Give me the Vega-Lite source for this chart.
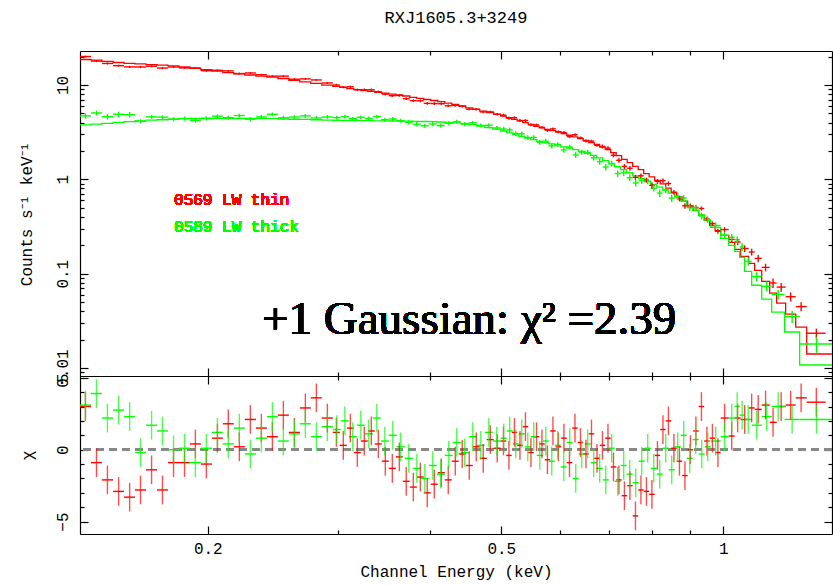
{
"$schema": "https://vega.github.io/schema/vega-lite/v6.json",
"background": "white",
"padding": {"left": 17, "top": 9, "right": 0, "bottom": 12},
"spacing": 0,
"bounds": "flush",
"config": {
 "view": {"stroke": null},
 "axis": {"labelFont": "Liberation Mono", "labelFontSize": 16, "titleFont": "Liberation Mono", "titleFontSize": 16, "titleFontWeight": "normal", "labelColor": "#000", "titleColor": "#000", "domainColor": "#000", "tickColor": "#000", "domainWidth": 1.2, "tickWidth": 1.2, "grid": false, "labelOverlap": false, "labelFlush": false, "labelBound": false}
},
"datasets": {
"spec": [
{"s":"r","e":0.1365,"a":0.1342,"b":0.1389,"v":20.0,"d":0.47,"m":18.6,"r":3.0},
{"s":"r","e":0.1413,"a":0.1389,"b":0.1437,"v":17.9,"d":0.46,"m":18.3,"r":-0.9},
{"s":"r","e":0.1462,"a":0.1437,"b":0.1488,"v":16.9,"d":0.45,"m":17.8,"r":-2.1},
{"s":"r","e":0.1514,"a":0.1488,"b":0.1540,"v":16.0,"d":0.43,"m":17.3,"r":-2.9},
{"s":"r","e":0.1567,"a":0.1540,"b":0.1593,"v":15.55,"d":0.42,"m":16.95,"r":-3.3},
{"s":"r","e":0.1621,"a":0.1593,"b":0.1649,"v":15.5,"d":0.42,"m":16.7,"r":-2.8},
{"s":"r","e":0.1678,"a":0.1649,"b":0.1707,"v":15.8,"d":0.41,"m":16.4,"r":-1.4},
{"s":"r","e":0.1736,"a":0.1707,"b":0.1766,"v":15.1,"d":0.41,"m":16.2,"r":-2.8},
{"s":"r","e":0.1797,"a":0.1766,"b":0.1828,"v":15.5,"d":0.40,"m":15.9,"r":-0.9},
{"s":"r","e":0.1860,"a":0.1828,"b":0.1891,"v":15.15,"d":0.39,"m":15.5,"r":-0.9},
{"s":"r","e":0.1924,"a":0.1891,"b":0.1957,"v":15.15,"d":0.375,"m":15.0,"r":0.4},
{"s":"r","e":0.1991,"a":0.1957,"b":0.2026,"v":14.15,"d":0.36,"m":14.5,"r":-1.0},
{"s":"r","e":0.2061,"a":0.2026,"b":0.2096,"v":14.3,"d":0.35,"m":14.0,"r":0.8},
{"s":"r","e":0.2132,"a":0.2096,"b":0.2169,"v":14.1,"d":0.34,"m":13.5,"r":1.8},
{"s":"r","e":0.2207,"a":0.2169,"b":0.2245,"v":13.2,"d":0.33,"m":13.1,"r":0.2},
{"s":"r","e":0.2284,"a":0.2245,"b":0.2324,"v":13.4,"d":0.32,"m":12.75,"r":2.1},
{"s":"r","e":0.2364,"a":0.2324,"b":0.2405,"v":12.85,"d":0.31,"m":12.4,"r":1.5},
{"s":"r","e":0.2447,"a":0.2405,"b":0.2489,"v":12.4,"d":0.30,"m":12.1,"r":0.9},
{"s":"r","e":0.2532,"a":0.2489,"b":0.2576,"v":12.4,"d":0.29,"m":11.7,"r":2.4},
{"s":"r","e":0.2621,"a":0.2576,"b":0.2666,"v":11.5,"d":0.28,"m":11.2,"r":1.2},
{"s":"r","e":0.2712,"a":0.2666,"b":0.2759,"v":11.6,"d":0.27,"m":10.8,"r":2.9},
{"s":"r","e":0.2807,"a":0.2759,"b":0.2855,"v":11.3,"d":0.26,"m":10.4,"r":3.6},
{"s":"r","e":0.2905,"a":0.2855,"b":0.2955,"v":10.5,"d":0.25,"m":9.97,"r":2.2},
{"s":"r","e":0.2988,"a":0.2955,"b":0.3020,"v":9.99,"d":0.29,"m":9.64,"r":1.2},
{"s":"r","e":0.3053,"a":0.3020,"b":0.3087,"v":9.49,"d":0.28,"m":9.41,"r":0.3},
{"s":"r","e":0.3121,"a":0.3087,"b":0.3155,"v":9.57,"d":0.27,"m":9.16,"r":1.5},
{"s":"r","e":0.3190,"a":0.3155,"b":0.3225,"v":8.89,"d":0.27,"m":8.94,"r":-0.2},
{"s":"r","e":0.3260,"a":0.3225,"b":0.3296,"v":8.89,"d":0.26,"m":8.73,"r":0.6},
{"s":"r","e":0.3332,"a":0.3296,"b":0.3369,"v":8.89,"d":0.26,"m":8.56,"r":1.3},
{"s":"r","e":0.3406,"a":0.3369,"b":0.3443,"v":8.47,"d":0.25,"m":8.37,"r":0.4},
{"s":"r","e":0.3481,"a":0.3443,"b":0.3519,"v":7.99,"d":0.25,"m":8.19,"r":-0.8},
{"s":"r","e":0.3558,"a":0.3519,"b":0.3597,"v":7.70,"d":0.24,"m":8.01,"r":-1.3},
{"s":"r","e":0.3637,"a":0.3597,"b":0.3676,"v":7.74,"d":0.24,"m":7.86,"r":-0.5},
{"s":"r","e":0.3716,"a":0.3676,"b":0.3758,"v":7.14,"d":0.23,"m":7.64,"r":-2.2},
{"s":"r","e":0.3799,"a":0.3758,"b":0.3841,"v":6.82,"d":0.22,"m":7.40,"r":-2.6},
{"s":"r","e":0.3883,"a":0.3841,"b":0.3925,"v":6.79,"d":0.22,"m":7.20,"r":-1.9},
{"s":"r","e":0.3968,"a":0.3925,"b":0.4012,"v":6.38,"d":0.21,"m":7.01,"r":-3.0},
{"s":"r","e":0.4056,"a":0.4012,"b":0.4101,"v":6.35,"d":0.21,"m":6.84,"r":-2.4},
{"s":"r","e":0.4146,"a":0.4101,"b":0.4191,"v":6.33,"d":0.20,"m":6.65,"r":-1.6},
{"s":"r","e":0.4237,"a":0.4191,"b":0.4284,"v":6.02,"d":0.19,"m":6.42,"r":-2.1},
{"s":"r","e":0.4331,"a":0.4284,"b":0.4378,"v":6.06,"d":0.19,"m":6.21,"r":-0.8},
{"s":"r","e":0.4426,"a":0.4378,"b":0.4475,"v":5.94,"d":0.18,"m":5.99,"r":-0.3},
{"s":"r","e":0.4524,"a":0.4475,"b":0.4574,"v":5.54,"d":0.17,"m":5.73,"r":-1.1},
{"s":"r","e":0.4624,"a":0.4574,"b":0.4675,"v":5.53,"d":0.165,"m":5.50,"r":0.2},
{"s":"r","e":0.4726,"a":0.4675,"b":0.4778,"v":5.18,"d":0.16,"m":5.28,"r":-0.6},
{"s":"r","e":0.4831,"a":0.4778,"b":0.4883,"v":5.19,"d":0.15,"m":5.08,"r":0.7},
{"s":"r","e":0.4937,"a":0.4883,"b":0.4991,"v":4.90,"d":0.15,"m":4.89,"r":0.1},
{"s":"r","e":0.5034,"a":0.4991,"b":0.5077,"v":4.79,"d":0.164,"m":4.69,"r":0.6},
{"s":"r","e":0.5121,"a":0.5077,"b":0.5165,"v":4.44,"d":0.158,"m":4.50,"r":-0.4},
{"s":"r","e":0.5210,"a":0.5165,"b":0.5255,"v":4.50,"d":0.151,"m":4.32,"r":1.2},
{"s":"r","e":0.5300,"a":0.5255,"b":0.5346,"v":4.20,"d":0.146,"m":4.16,"r":0.3},
{"s":"r","e":0.5392,"a":0.5346,"b":0.5438,"v":4.20,"d":0.139,"m":3.98,"r":1.6},
{"s":"r","e":0.5485,"a":0.5438,"b":0.5533,"v":3.78,"d":0.133,"m":3.81,"r":-0.2},
{"s":"r","e":0.5581,"a":0.5533,"b":0.5628,"v":3.77,"d":0.128,"m":3.65,"r":0.9},
{"s":"r","e":0.5677,"a":0.5628,"b":0.5726,"v":3.56,"d":0.123,"m":3.51,"r":0.4},
{"s":"r","e":0.5775,"a":0.5726,"b":0.5825,"v":3.31,"d":0.119,"m":3.39,"r":-0.7},
{"s":"r","e":0.5875,"a":0.5825,"b":0.5926,"v":3.43,"d":0.115,"m":3.28,"r":1.3},
{"s":"r","e":0.5977,"a":0.5926,"b":0.6028,"v":3.19,"d":0.111,"m":3.17,"r":0.2},
{"s":"r","e":0.6080,"a":0.6028,"b":0.6133,"v":3.14,"d":0.107,"m":3.05,"r":0.8},
{"s":"r","e":0.6186,"a":0.6133,"b":0.6239,"v":2.84,"d":0.103,"m":2.93,"r":-0.9},
{"s":"r","e":0.6293,"a":0.6239,"b":0.6347,"v":2.97,"d":0.099,"m":2.82,"r":1.5},
{"s":"r","e":0.6402,"a":0.6347,"b":0.6457,"v":2.75,"d":0.095,"m":2.70,"r":0.5},
{"s":"r","e":0.6513,"a":0.6457,"b":0.6569,"v":2.55,"d":0.090,"m":2.58,"r":-0.3},
{"s":"r","e":0.6626,"a":0.6569,"b":0.6683,"v":2.54,"d":0.086,"m":2.45,"r":1.1},
{"s":"r","e":0.6741,"a":0.6683,"b":0.6798,"v":2.29,"d":0.082,"m":2.34,"r":-0.6},
{"s":"r","e":0.6857,"a":0.6798,"b":0.6916,"v":2.23,"d":0.110,"m":2.20,"r":0.3},
{"s":"r","e":0.6976,"a":0.6916,"b":0.7036,"v":2.14,"d":0.103,"m":2.06,"r":0.8},
{"s":"r","e":0.7097,"a":0.7036,"b":0.7157,"v":1.80,"d":0.096,"m":1.92,"r":-1.2},
{"s":"r","e":0.7219,"a":0.7157,"b":0.7281,"v":1.59,"d":0.089,"m":1.78,"r":-2.1},
{"s":"r","e":0.7344,"a":0.7281,"b":0.7407,"v":1.37,"d":0.082,"m":1.63,"r":-3.2},
{"s":"r","e":0.7471,"a":0.7407,"b":0.7536,"v":1.31,"d":0.075,"m":1.50,"r":-2.5},
{"s":"r","e":0.7601,"a":0.7536,"b":0.7666,"v":1.05,"d":0.069,"m":1.37,"r":-4.6},
{"s":"r","e":0.7732,"a":0.7666,"b":0.7799,"v":1.09,"d":0.064,"m":1.27,"r":-2.8},
{"s":"r","e":0.7866,"a":0.7799,"b":0.7934,"v":0.983,"d":0.058,"m":1.15,"r":-2.9},
{"s":"r","e":0.8002,"a":0.7934,"b":0.8071,"v":0.863,"d":0.064,"m":1.06,"r":-3.1},
{"s":"r","e":0.8141,"a":0.8071,"b":0.8211,"v":0.951,"d":0.058,"m":0.974,"r":-0.4},
{"s":"r","e":0.8282,"a":0.8211,"b":0.8353,"v":0.969,"d":0.054,"m":0.894,"r":1.4},
{"s":"r","e":0.8425,"a":0.8353,"b":0.8498,"v":0.902,"d":0.048,"m":0.805,"r":2.0},
{"s":"r","e":0.8571,"a":0.8498,"b":0.8645,"v":0.729,"d":0.044,"m":0.725,"r":0.1},
{"s":"r","e":0.8720,"a":0.8645,"b":0.8795,"v":0.622,"d":0.039,"m":0.653,"r":-0.8},
{"s":"r","e":0.8871,"a":0.8795,"b":0.8947,"v":0.524,"d":0.035,"m":0.587,"r":-1.8},
{"s":"r","e":0.9024,"a":0.8947,"b":0.9102,"v":0.524,"d":0.031,"m":0.524,"r":0.0},
{"s":"r","e":0.9180,"a":0.9102,"b":0.9260,"v":0.503,"d":0.028,"m":0.467,"r":1.3},
{"s":"r","e":0.9340,"a":0.9260,"b":0.9420,"v":0.491,"d":0.025,"m":0.416,"r":3.0},
{"s":"r","e":0.9501,"a":0.9420,"b":0.9583,"v":0.380,"d":0.022,"m":0.367,"r":0.6},
{"s":"r","e":0.9666,"a":0.9583,"b":0.9749,"v":0.339,"d":0.019,"m":0.323,"r":0.8},
{"s":"r","e":0.9833,"a":0.9749,"b":0.9918,"v":0.282,"d":0.017,"m":0.285,"r":-0.2},
{"s":"r","e":1.004,"a":0.9918,"b":1.0169,"v":0.2935,"d":0.0178,"m":0.2543,"r":2.2},
{"s":"r","e":1.0265,"a":1.0169,"b":1.0361,"v":0.2309,"d":0.0172,"m":0.2146,"r":0.95},
{"s":"r","e":1.0458,"a":1.0361,"b":1.0558,"v":0.2168,"d":0.0163,"m":0.181,"r":2.2},
{"s":"r","e":1.069,"a":1.0558,"b":1.0824,"v":0.1848,"d":0.0153,"m":0.1527,"r":2.1},
{"s":"r","e":1.0925,"a":1.0824,"b":1.1028,"v":0.1699,"d":0.0142,"m":0.1288,"r":2.9},
{"s":"r","e":1.115,"a":1.1028,"b":1.1273,"v":0.1451,"d":0.0130,"m":0.1086,"r":2.8},
{"s":"r","e":1.141,"a":1.1273,"b":1.1557,"v":0.1166,"d":0.0108,"m":0.0831,"r":3.1},
{"s":"r","e":1.168,"a":1.1557,"b":1.1812,"v":0.0798,"d":0.0093,"m":0.0621,"r":1.9},
{"s":"r","e":1.198,"a":1.1812,"b":1.2149,"v":0.0721,"d":0.0078,"m":0.0487,"r":3.0},
{"s":"r","e":1.234,"a":1.2149,"b":1.2536,"v":0.057,"d":0.0063,"m":0.0373,"r":3.1},
{"s":"r","e":1.275,"a":1.2536,"b":1.2974,"v":0.0448,"d":0.0049,"m":0.0272,"r":3.6},
{"s":"r","e":1.337,"a":1.2974,"b":1.3765,"v":0.0234,"d":0.0028,"m":0.0141,"r":3.3},
{"s":"r","a":1.4034,"m":0.0141},
{"s":"g","e":0.1365,"a":0.1342,"b":0.1389,"v":4.70,"d":0.30,"m":3.77,"r":3.1},
{"s":"g","e":0.1413,"a":0.1389,"b":0.1437,"v":5.05,"d":0.31,"m":3.85,"r":3.9},
{"s":"g","e":0.1462,"a":0.1437,"b":0.1488,"v":4.61,"d":0.31,"m":3.92,"r":2.2},
{"s":"g","e":0.1514,"a":0.1488,"b":0.1540,"v":4.89,"d":0.32,"m":4.01,"r":2.75},
{"s":"g","e":0.1567,"a":0.1540,"b":0.1593,"v":4.84,"d":0.33,"m":4.09,"r":2.3},
{"s":"g","e":0.1621,"a":0.1593,"b":0.1649,"v":4.13,"d":0.21,"m":4.17,"r":-0.2},
{"s":"g","e":0.1678,"a":0.1649,"b":0.1707,"v":4.59,"d":0.21,"m":4.23,"r":1.7},
{"s":"g","e":0.1736,"a":0.1707,"b":0.1766,"v":4.56,"d":0.21,"m":4.28,"r":1.3},
{"s":"g","e":0.1797,"a":0.1766,"b":0.1828,"v":4.34,"d":0.22,"m":4.34,"r":0.0},
{"s":"g","e":0.1860,"a":0.1828,"b":0.1891,"v":4.41,"d":0.22,"m":4.39,"r":0.1},
{"s":"g","e":0.1924,"a":0.1891,"b":0.1957,"v":4.21,"d":0.22,"m":4.41,"r":-0.9},
{"s":"g","e":0.1991,"a":0.1957,"b":0.2026,"v":4.43,"d":0.22,"m":4.41,"r":0.1},
{"s":"g","e":0.2061,"a":0.2026,"b":0.2096,"v":4.67,"d":0.22,"m":4.41,"r":1.2},
{"s":"g","e":0.2132,"a":0.2096,"b":0.2169,"v":4.50,"d":0.22,"m":4.41,"r":0.4},
{"s":"g","e":0.2207,"a":0.2169,"b":0.2245,"v":4.74,"d":0.22,"m":4.41,"r":1.5},
{"s":"g","e":0.2284,"a":0.2245,"b":0.2324,"v":4.34,"d":0.22,"m":4.41,"r":-0.3},
{"s":"g","e":0.2364,"a":0.2324,"b":0.2405,"v":4.58,"d":0.22,"m":4.40,"r":0.8},
{"s":"g","e":0.2447,"a":0.2405,"b":0.2489,"v":4.89,"d":0.22,"m":4.39,"r":2.3},
{"s":"g","e":0.2532,"a":0.2489,"b":0.2576,"v":4.49,"d":0.22,"m":4.36,"r":0.6},
{"s":"g","e":0.2621,"a":0.2576,"b":0.2666,"v":4.57,"d":0.22,"m":4.33,"r":1.1},
{"s":"g","e":0.2712,"a":0.2666,"b":0.2759,"v":4.70,"d":0.22,"m":4.31,"r":1.8},
{"s":"g","e":0.2807,"a":0.2759,"b":0.2855,"v":4.47,"d":0.21,"m":4.28,"r":0.9},
{"s":"g","e":0.2905,"a":0.2855,"b":0.2955,"v":4.58,"d":0.21,"m":4.24,"r":1.6},
{"s":"g","e":0.2992,"a":0.2955,"b":0.3030,"v":4.50,"d":0.21,"m":4.21,"r":1.4},
{"s":"g","e":0.3068,"a":0.3030,"b":0.3106,"v":4.62,"d":0.21,"m":4.20,"r":2.0},
{"s":"g","e":0.3145,"a":0.3106,"b":0.3185,"v":4.39,"d":0.21,"m":4.20,"r":0.9},
{"s":"g","e":0.3225,"a":0.3185,"b":0.3265,"v":4.55,"d":0.21,"m":4.19,"r":1.7},
{"s":"g","e":0.3306,"a":0.3265,"b":0.3348,"v":4.41,"d":0.21,"m":4.18,"r":1.1},
{"s":"g","e":0.3390,"a":0.3348,"b":0.3433,"v":4.63,"d":0.21,"m":4.17,"r":2.2},
{"s":"g","e":0.3476,"a":0.3433,"b":0.3519,"v":4.28,"d":0.21,"m":4.16,"r":0.6},
{"s":"g","e":0.3563,"a":0.3519,"b":0.3608,"v":4.36,"d":0.21,"m":4.15,"r":1.0},
{"s":"g","e":0.3653,"a":0.3608,"b":0.3699,"v":4.18,"d":0.21,"m":4.14,"r":0.2},
{"s":"g","e":0.3746,"a":0.3699,"b":0.3793,"v":4.01,"d":0.21,"m":4.13,"r":-0.6},
{"s":"g","e":0.3841,"a":0.3793,"b":0.3889,"v":3.84,"d":0.21,"m":4.11,"r":-1.3},
{"s":"g","e":0.3938,"a":0.3889,"b":0.3987,"v":3.69,"d":0.20,"m":4.10,"r":-2.0},
{"s":"g","e":0.4037,"a":0.3987,"b":0.4088,"v":3.86,"d":0.20,"m":4.08,"r":-1.1},
{"s":"g","e":0.4139,"a":0.4088,"b":0.4191,"v":3.71,"d":0.20,"m":4.05,"r":-1.7},
{"s":"g","e":0.4244,"a":0.4191,"b":0.4297,"v":3.93,"d":0.20,"m":4.01,"r":-0.4},
{"s":"g","e":0.4351,"a":0.4297,"b":0.4406,"v":4.07,"d":0.20,"m":3.97,"r":0.5},
{"s":"g","e":0.4461,"a":0.4406,"b":0.4517,"v":3.85,"d":0.19,"m":3.89,"r":-0.2},
{"s":"g","e":0.4574,"a":0.4517,"b":0.4632,"v":3.97,"d":0.19,"m":3.80,"r":0.9},
{"s":"g","e":0.4690,"a":0.4632,"b":0.4749,"v":3.73,"d":0.18,"m":3.67,"r":0.3},
{"s":"g","e":0.4809,"a":0.4749,"b":0.4869,"v":3.74,"d":0.18,"m":3.53,"r":1.2},
{"s":"g","e":0.4930,"a":0.4869,"b":0.4991,"v":3.50,"d":0.17,"m":3.40,"r":0.6},
{"s":"g","e":0.5038,"a":0.4991,"b":0.5085,"v":3.41,"d":0.195,"m":3.25,"r":0.8},
{"s":"g","e":0.5133,"a":0.5085,"b":0.5182,"v":3.35,"d":0.187,"m":3.11,"r":1.3},
{"s":"g","e":0.5231,"a":0.5182,"b":0.5280,"v":3.05,"d":0.179,"m":2.98,"r":0.4},
{"s":"g","e":0.5330,"a":0.5280,"b":0.5380,"v":3.04,"d":0.171,"m":2.85,"r":1.1},
{"s":"g","e":0.5431,"a":0.5380,"b":0.5481,"v":2.77,"d":0.164,"m":2.74,"r":0.2},
{"s":"g","e":0.5533,"a":0.5481,"b":0.5585,"v":2.78,"d":0.158,"m":2.64,"r":0.9},
{"s":"g","e":0.5638,"a":0.5585,"b":0.5691,"v":2.47,"d":0.152,"m":2.53,"r":-0.4},
{"s":"g","e":0.5745,"a":0.5691,"b":0.5798,"v":2.54,"d":0.147,"m":2.45,"r":0.6},
{"s":"g","e":0.5853,"a":0.5798,"b":0.5908,"v":2.26,"d":0.142,"m":2.37,"r":-0.8},
{"s":"g","e":0.5964,"a":0.5908,"b":0.6020,"v":2.34,"d":0.138,"m":2.30,"r":0.3},
{"s":"g","e":0.6077,"a":0.6020,"b":0.6133,"v":2.05,"d":0.133,"m":2.21,"r":-1.2},
{"s":"g","e":0.6191,"a":0.6133,"b":0.6249,"v":2.20,"d":0.128,"m":2.14,"r":0.5},
{"s":"g","e":0.6308,"a":0.6249,"b":0.6367,"v":1.81,"d":0.124,"m":2.06,"r":-2.0},
{"s":"g","e":0.6427,"a":0.6367,"b":0.6488,"v":1.94,"d":0.119,"m":1.98,"r":-0.3},
{"s":"g","e":0.6549,"a":0.6488,"b":0.6610,"v":1.93,"d":0.113,"m":1.88,"r":0.4},
{"s":"g","e":0.6672,"a":0.6610,"b":0.6735,"v":1.69,"d":0.107,"m":1.79,"r":-0.9},
{"s":"g","e":0.6798,"a":0.6735,"b":0.6863,"v":1.54,"d":0.118,"m":1.69,"r":-1.3},
{"s":"g","e":0.6928,"a":0.6863,"b":0.6992,"v":1.35,"d":0.111,"m":1.58,"r":-2.1},
{"s":"g","e":0.7058,"a":0.6992,"b":0.7124,"v":1.47,"d":0.102,"m":1.46,"r":0.1},
{"s":"g","e":0.7191,"a":0.7124,"b":0.7259,"v":1.15,"d":0.095,"m":1.36,"r":-2.2},
{"s":"g","e":0.7327,"a":0.7259,"b":0.7396,"v":1.17,"d":0.089,"m":1.27,"r":-1.1},
{"s":"g","e":0.7466,"a":0.7396,"b":0.7536,"v":1.04,"d":0.083,"m":1.18,"r":-1.7},
{"s":"g","e":0.7607,"a":0.7536,"b":0.7679,"v":0.915,"d":0.076,"m":1.09,"r":-2.3},
{"s":"g","e":0.7751,"a":0.7679,"b":0.7824,"v":0.963,"d":0.071,"m":1.02,"r":-0.8},
{"s":"g","e":0.7898,"a":0.7824,"b":0.7972,"v":0.955,"d":0.066,"m":0.948,"r":0.1},
{"s":"g","e":0.8047,"a":0.7972,"b":0.8123,"v":0.804,"d":0.062,"m":0.884,"r":-1.3},
{"s":"g","e":0.8199,"a":0.8123,"b":0.8276,"v":0.715,"d":0.066,"m":0.827,"r":-1.7},
{"s":"g","e":0.8354,"a":0.8276,"b":0.8433,"v":0.775,"d":0.062,"m":0.769,"r":0.1},
{"s":"g","e":0.8512,"a":0.8433,"b":0.8592,"v":0.633,"d":0.057,"m":0.713,"r":-1.4},
{"s":"g","e":0.8673,"a":0.8592,"b":0.8755,"v":0.663,"d":0.052,"m":0.653,"r":0.2},
{"s":"g","e":0.8837,"a":0.8755,"b":0.8920,"v":0.634,"d":0.047,"m":0.587,"r":1.0},
{"s":"g","e":0.9004,"a":0.8920,"b":0.9089,"v":0.501,"d":0.042,"m":0.526,"r":-0.6},
{"s":"g","e":0.9174,"a":0.9089,"b":0.9261,"v":0.498,"d":0.038,"m":0.472,"r":0.7},
{"s":"g","e":0.9348,"a":0.9261,"b":0.9436,"v":0.409,"d":0.034,"m":0.419,"r":-0.3},
{"s":"g","e":0.9525,"a":0.9436,"b":0.9614,"v":0.374,"d":0.029,"m":0.368,"r":0.2},
{"s":"g","e":0.9765,"a":0.9614,"b":0.9918,"v":0.324,"d":0.025,"m":0.309,"r":0.6},
{"s":"g","e":1.004,"a":0.9918,"b":1.0169,"v":0.2557,"d":0.0213,"m":0.2365,"r":0.9},
{"s":"g","e":1.0265,"a":1.0169,"b":1.0361,"v":0.2434,"d":0.020,"m":0.1995,"r":2.2},
{"s":"g","e":1.0441,"a":1.0361,"b":1.0524,"v":0.2293,"d":0.019,"m":0.1724,"r":3.0},
{"s":"g","e":1.0606,"a":1.0524,"b":1.069,"v":0.1919,"d":0.0179,"m":0.149,"r":2.4},
{"s":"g","e":1.0809,"a":1.069,"b":1.0927,"v":0.135,"d":0.0138,"m":0.106,"r":2.1},
{"s":"g","e":1.1097,"a":1.0927,"b":1.1273,"v":0.0933,"d":0.0106,"m":0.0754,"r":1.7},
{"s":"g","e":1.145,"a":1.1273,"b":1.1629,"v":0.0735,"d":0.0086,"m":0.0537,"r":2.3},
{"s":"g","e":1.187,"a":1.1629,"b":1.2111,"v":0.0602,"d":0.0070,"m":0.0391,"r":3.0},
{"s":"g","e":1.2397,"a":1.2111,"b":1.2692,"v":0.0352,"d":0.0053,"m":0.0241,"r":2.1},
{"s":"g","e":1.338,"a":1.2692,"b":1.41,"v":0.018,"d":0.0035,"m":0.01078,"r":2.1},
{"s":"g","a":1.41,"m":0.01078}
]
},
"vconcat": [
{
 "width": 752, "height": 325,
 "title": {"text": "RXJ1605.3+3249", "font": "Liberation Mono", "fontSize": 17, "fontWeight": "normal", "color": "#000", "anchor": "middle", "frame": "group", "offset": 23},
 "data": {"name": "spec"},
 "resolve": {"axis": {"x": "independent", "y": "independent"}},
 "layer": [
  {
   "mark": {"type": "line", "interpolate": "step-after", "strokeWidth": 1.3, "clip": true},
   "encoding": {
    "x": {"field": "a", "type": "quantitative", "scale": {"type": "log", "domain": [0.1342, 1.404], "nice": false}, "axis": {"orient": "bottom", "values": [0.2,0.3,0.4,0.5,0.6,0.7,0.8,0.9,1], "labels": false, "title": null, "tickSize": {"condition": {"test": "datum.value == 0.2 || datum.value == 0.5 || datum.value == 1", "value": -8}, "value": -4}}},
    "y": {"field": "m", "type": "quantitative", "scale": {"type": "log", "domain": [0.00824, 22.9], "nice": false}, "axis": {"orient": "left", "values": [0.009,0.01,0.02,0.03,0.04,0.05,0.06,0.07,0.08,0.09,0.1,0.2,0.3,0.4,0.5,0.6,0.7,0.8,0.9,1,2,3,4,5,6,7,8,9,10,20], "labelExpr": "datum.value == 10 ? '10' : datum.value == 1 ? '1' : datum.value == 0.1 ? '0.1' : datum.value == 0.01 ? '0.01' : ''", "labelAngle": 270, "labelAlign": "center", "labelBaseline": "bottom", "labelPadding": 18, "title": "Counts s⁻¹ keV⁻¹", "titlePadding": 16, "tickSize": {"condition": {"test": "datum.value == 10 || datum.value == 1 || datum.value == 0.1 || datum.value == 0.01", "value": -8}, "value": -4}}},
    "color": {"field": "s", "type": "nominal", "scale": {"domain": ["r", "g"], "range": ["#ff0000", "#00ff00"]}, "legend": null}
   }
  },
  {
   "transform": [{"filter": "isValid(datum.v)"}],
   "mark": {"type": "rule", "strokeWidth": 1.4, "clip": true},
   "encoding": {
    "x": {"field": "a", "type": "quantitative", "axis": {"orient": "top", "values": [0.2,0.3,0.4,0.5,0.6,0.7,0.8,0.9,1], "labels": false, "title": null, "tickSize": {"condition": {"test": "datum.value == 0.2 || datum.value == 0.5 || datum.value == 1", "value": -8}, "value": -4}}},
    "x2": {"field": "b"},
    "y": {"field": "v", "type": "quantitative", "axis": {"orient": "right", "values": [0.009,0.01,0.02,0.03,0.04,0.05,0.06,0.07,0.08,0.09,0.1,0.2,0.3,0.4,0.5,0.6,0.7,0.8,0.9,1,2,3,4,5,6,7,8,9,10,20], "labels": false, "title": null, "tickSize": {"condition": {"test": "datum.value == 10 || datum.value == 1 || datum.value == 0.1 || datum.value == 0.01", "value": -8}, "value": -4}}},
    "color": {"field": "s", "type": "nominal", "legend": null}
   }
  },
  {
   "transform": [{"filter": "isValid(datum.v)"}],
   "mark": {"type": "errorbar", "thickness": 1.4, "clip": true},
   "encoding": {
    "x": {"field": "e", "type": "quantitative", "axis": null},
    "y": {"field": "v", "type": "quantitative", "axis": null},
    "yError": {"field": "d"},
    "color": {"field": "s", "type": "nominal", "legend": null}
   }
  },
  {
   "mark": {"type": "text", "text": "0569 LW thin", "font": "Liberation Mono", "fontSize": 16, "fontWeight": "normal", "color": "#ff0000", "align": "left", "baseline": "alphabetic"},
   "encoding": {"x": {"datum": 0.18, "type": "quantitative", "axis": null}, "y": {"datum": 0.541, "type": "quantitative", "axis": null}}
  },
  {
   "mark": {"type": "text", "text": "0589 LW thick", "font": "Liberation Mono", "fontSize": 16, "fontWeight": "normal", "color": "#00ff00", "align": "left", "baseline": "alphabetic"},
   "encoding": {"x": {"datum": 0.18, "type": "quantitative", "axis": null}, "y": {"datum": 0.2735, "type": "quantitative", "axis": null}}
  },
  {
   "mark": {"type": "text", "text": "+1 Gaussian: χ² =2.39", "font": "Liberation Serif", "fontSize": 47, "fontWeight": "normal", "color": "#000", "align": "left", "baseline": "alphabetic"},
   "encoding": {"x": {"datum": 0.2369, "type": "quantitative", "axis": null}, "y": {"datum": 0.0227, "type": "quantitative", "axis": null}}
  }
 ]
},
{
 "width": 752, "height": 158,
 "data": {"name": "spec"},
 "transform": [{"filter": "isValid(datum.r)"}],
 "resolve": {"axis": {"x": "independent", "y": "independent"}},
 "layer": [
  {
   "mark": {"type": "rule", "strokeDash": [8, 5], "color": "#888888", "strokeWidth": 2},
   "encoding": {"y": {"datum": 0, "type": "quantitative", "scale": {"domain": [-5.86, 5.12], "nice": false, "zero": false}, "axis": null}}
  },
  {
   "mark": {"type": "rule", "strokeWidth": 1.4, "clip": true},
   "encoding": {
    "x": {"field": "a", "type": "quantitative", "scale": {"type": "log", "domain": [0.1342, 1.404], "nice": false}, "axis": {"orient": "bottom", "values": [0.2,0.3,0.4,0.5,0.6,0.7,0.8,0.9,1], "labelExpr": "datum.value == 0.2 ? '0.2' : datum.value == 0.5 ? '0.5' : datum.value == 1 ? '1' : ''", "labelPadding": 14, "title": "Channel Energy (keV)", "titlePadding": 3, "tickSize": {"condition": {"test": "datum.value == 0.2 || datum.value == 0.5 || datum.value == 1", "value": -8}, "value": -4}}},
    "x2": {"field": "b"},
    "y": {"field": "r", "type": "quantitative", "axis": {"orient": "left", "values": [-5,-4,-3,-2,-1,0,1,2,3,4,5], "labelExpr": "datum.value == 0 ? '0' : datum.value == 5 ? '5' : datum.value == -5 ? '−5' : ''", "labelAngle": 270, "labelAlign": "center", "labelBaseline": "bottom", "labelPadding": 18, "title": "χ", "titlePadding": 15, "tickSize": {"condition": {"test": "datum.value == 0 || datum.value == 5 || datum.value == -5", "value": -8}, "value": -4}}},
    "color": {"field": "s", "type": "nominal", "scale": {"domain": ["r", "g"], "range": ["#ff0000", "#00ff00"]}, "legend": null}
   }
  },
  {
   "mark": {"type": "tick", "orient": "vertical", "size": 28.7, "thickness": 1.4, "clip": true},
   "encoding": {
    "x": {"field": "e", "type": "quantitative", "axis": {"orient": "top", "values": [0.2,0.3,0.4,0.5,0.6,0.7,0.8,0.9,1], "labels": false, "title": null, "tickSize": {"condition": {"test": "datum.value == 0.2 || datum.value == 0.5 || datum.value == 1", "value": -8}, "value": -4}}},
    "y": {"field": "r", "type": "quantitative", "axis": {"orient": "right", "values": [-5,-4,-3,-2,-1,0,1,2,3,4,5], "labels": false, "title": null, "tickSize": {"condition": {"test": "datum.value == 0 || datum.value == 5 || datum.value == -5", "value": -8}, "value": -4}}},
    "color": {"field": "s", "type": "nominal", "legend": null}
   }
  }
 ]
}
]
}
